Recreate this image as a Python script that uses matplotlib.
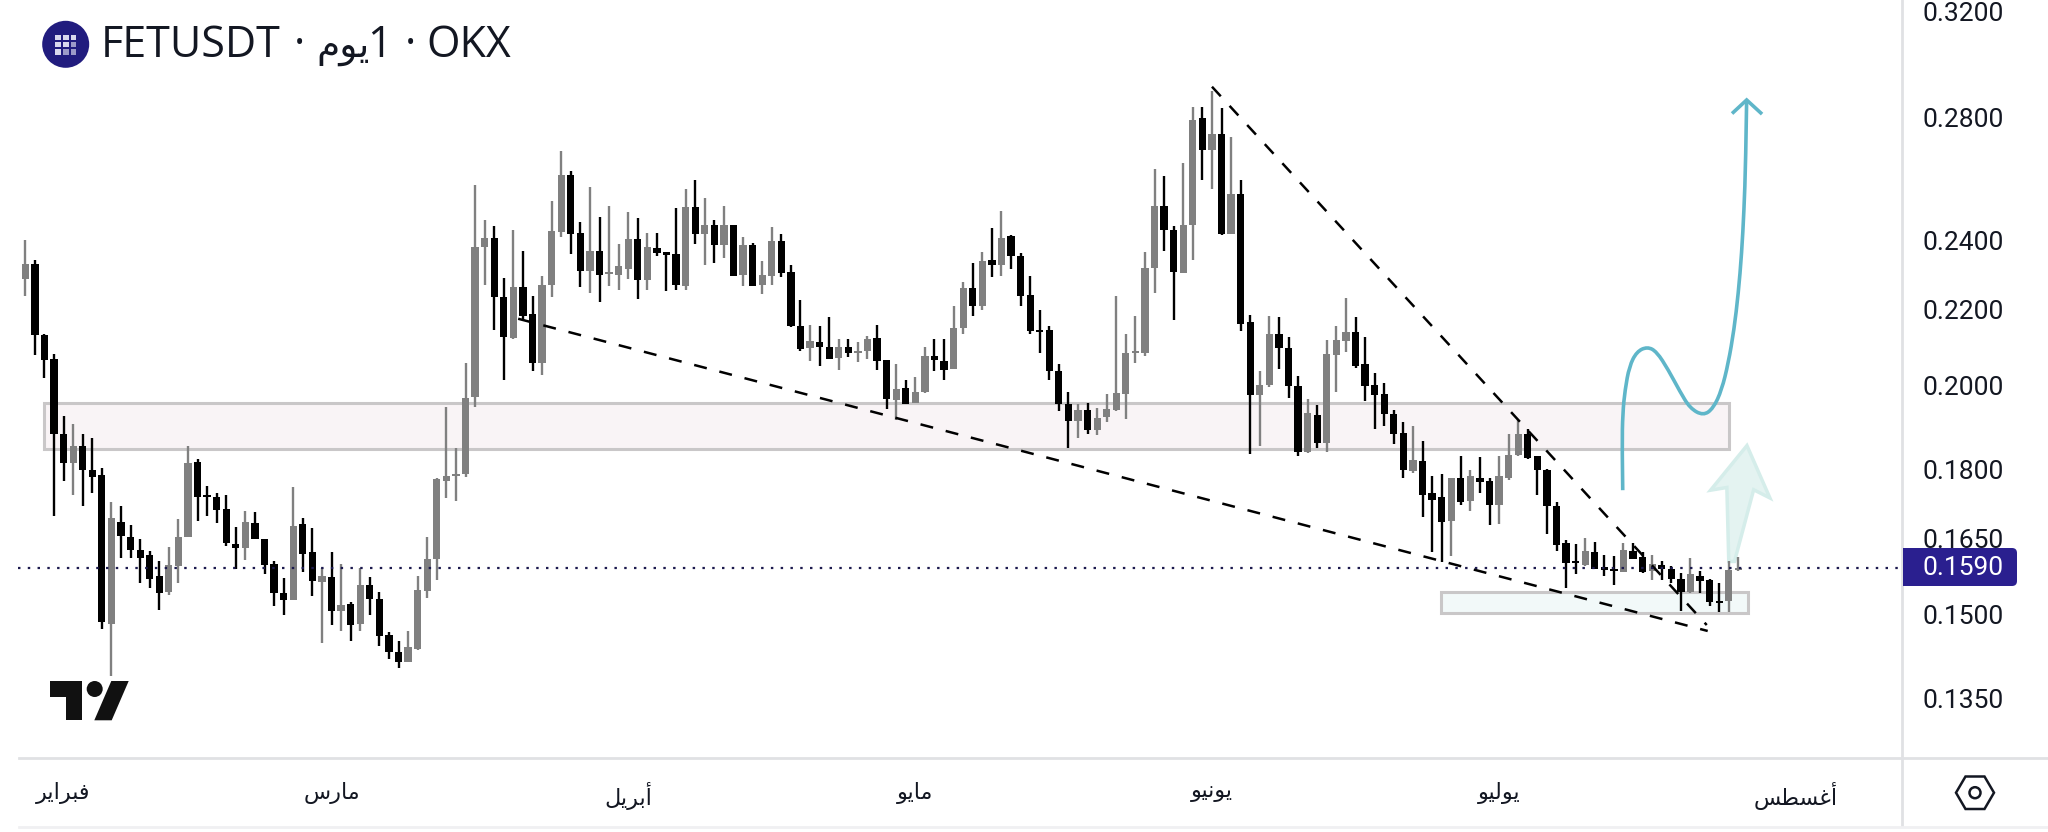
import numpy as np
import matplotlib
matplotlib.use("Agg")
import matplotlib.pyplot as plt
from matplotlib.patches import Rectangle, Polygon, Circle, FancyBboxPatch, PathPatch
from matplotlib.path import Path

# daily candles
opens = [.2287,.2331,.2130,.2068,.1881,.1815,.1855,.1800,.1787,.1483,
         .1686,.1654,.1627,.1618,.1574,.1544,.1595,.1655,.1817,.1744,
         .1739,.1713,.1639,.1631,.1684,.1650,.1599,.1542,.1529,.1682,
         .1624,.1564,.1573,.1507,.1521,.1483,.1558,.1530,.1463,.1432,
         .1414,.1438,.1546,.1609,.1775,.1785,.1789,.1972,.2381,.2406,
         .2235,.2124,.2262,.2188,.2057,.2269,.2425,.2604,.2423,.2308,
         .2369,.2300,.2298,.2315,.2404,.2283,.2376,.2364,.2360,.2267,
         .2503,.2418,.2446,.2386,.2446,.2297,.2386,.2268,.2295,.2398,
         .2306,.2154,.2096,.2113,.2100,.2071,.2100,.2084,.2088,.2124,
         .2064,.1964,.1993,.1958,.1983,.2076,.2062,.2043,.2149,.2261,
         .2211,.2340,.2326,.2412,.2352,.2241,.2144,.2144,.2037,.1954,
         .1914,.1940,.1892,.1922,.1940,.1979,.2083,.2083,.2317,.2506,
         .2432,.2304,.2447,.2797,.2688,.2741,.2420,.2545,.2165,.1977,
         .2002,.2133,.2097,.1998,.1840,.1927,.1862,.2078,.2116,.2140,
         .2055,.2001,.1979,.1930,.1884,.1796,.1820,.1748,.1739,.1688,
         .1782,.1731,.1782,.1774,.1722,.1782,.1834,.1881,.1830,.1800,
         .1719,.1642,.1604,.1596,.1624,.1592,.1589,.1583,.1626,.1613,
         .1584,.1596,.1589,.1570,.1544,.1575,.1568,.1527,.1526,.1586]
highs = [.2402,.2340,.2135,.2081,.1926,.1907,.1883,.1872,.1803,.1729,
         .1719,.1680,.1650,.1626,.1605,.1633,.1692,.1853,.1824,.1764,
         .1747,.1744,.1675,.1708,.1706,.1650,.1605,.1571,.1762,.1694,
         .1673,.1591,.1624,.1599,.1525,.1591,.1573,.1544,.1468,.1451,
         .1470,.1575,.1654,.1782,.1947,.1849,.2057,.2571,.2463,.2442,
         .2289,.2430,.2369,.2238,.2296,.2520,.2686,.2618,.2457,.2566,
         .2472,.2507,.2389,.2487,.2469,.2422,.2422,.2366,.2499,.2561,
         .2590,.2530,.2463,.2505,.2447,.2411,.2393,.2339,.2439,.2420,
         .2327,.2227,.2159,.2156,.2180,.2120,.2120,.2113,.2129,.2159,
         .2064,.2055,.2013,.2021,.2100,.2120,.2121,.2209,.2278,.2333,
         .2366,.2436,.2489,.2415,.2363,.2295,.2200,.2154,.2055,.1985,
         .1954,.1958,.1944,.1978,.2238,.2134,.2183,.2366,.2623,.2600,
         .2444,.2645,.2837,.2837,.2893,.2833,.2732,.2587,.2186,.2036,
         .2182,.2180,.2125,.2025,.1966,.1952,.2118,.2154,.2232,.2180,
         .2125,.2031,.2006,.1940,.1910,.1900,.1866,.1785,.1790,.1782,
         .1832,.1800,.1829,.1780,.1832,.1881,.1916,.1895,.1830,.1802,
         .1729,.1647,.1639,.1652,.1643,.1617,.1614,.1641,.1641,.1624,
         .1617,.1604,.1594,.1581,.1610,.1584,.1570,.1561,.1604,.1612]
lows = [.2238,.2077,.2018,.1698,.1774,.1744,.1720,.1747,.1474,.1390,
        .1610,.1610,.1561,.1552,.1509,.1538,.1562,.1653,.1688,.1698,
        .1683,.1636,.1588,.1606,.1650,.1578,.1517,.1500,.1529,.1583,
        .1536,.1448,.1481,.1470,.1452,.1470,.1500,.1443,.1419,.1403,
        .1413,.1436,.1533,.1568,.1738,.1731,.1783,.1947,.2269,.2145,
        .2015,.2121,.2171,.2036,.2028,.2236,.2411,.2360,.2264,.2246,
        .2222,.2267,.2254,.2287,.2230,.2254,.2352,.2251,.2254,.2254,
        .2390,.2326,.2332,.2348,.2296,.2267,.2265,.2244,.2268,.2293,
        .2152,.2089,.2063,.2049,.2067,.2040,.2074,.2059,.2067,.2040,
        .1941,.1916,.1954,.1956,.1981,.2036,.2013,.2043,.2133,.2182,
        .2198,.2293,.2295,.2315,.2211,.2134,.2084,.2015,.1937,.1849,
        .1872,.1882,.1879,.1910,.1938,.1918,.2057,.2076,.2246,.2369,
        .2171,.2304,.2340,.2590,.2558,.2415,.2420,.2141,.1835,.1853,
        .1996,.2043,.1969,.1830,.1837,.1850,.1841,.1984,.2085,.2045,
        .1962,.1894,.1902,.1858,.1781,.1793,.1697,.1623,.1602,.1614,
        .1721,.1708,.1747,.1680,.1682,.1776,.1832,.1825,.1744,.1660,
        .1625,.1552,.1578,.1595,.1588,.1575,.1558,.1583,.1608,.1581,
        .1568,.1568,.1561,.1508,.1541,.1541,.1517,.1506,.1506,.1584]
closes = [.2330,.2130,.2066,.1882,.1814,.1855,.1799,.1783,.1487,.1694,
          .1657,.1627,.1611,.1569,.1542,.1597,.1653,.1815,.1739,.1739,
          .1712,.1642,.1631,.1685,.1650,.1597,.1541,.1528,.1677,.1620,
          .1565,.1574,.1508,.1518,.1481,.1558,.1530,.1460,.1432,.1413,
          .1440,.1548,.1609,.1778,.1785,.1791,.1970,.2381,.2408,.2235,
          .2126,.2262,.2183,.2057,.2269,.2427,.2606,.2420,.2308,.2369,
          .2297,.2306,.2325,.2404,.2283,.2379,.2362,.2357,.2268,.2503,
          .2418,.2446,.2386,.2446,.2296,.2386,.2267,.2297,.2398,.2303,
          .2154,.2094,.2116,.2098,.2067,.2098,.2084,.2090,.2120,.2063,
          .1967,.1991,.1954,.1985,.2076,.2064,.2040,.2150,.2261,.2209,
          .2339,.2326,.2406,.2352,.2239,.2142,.2138,.2036,.1954,.1914,
          .1940,.1892,.1921,.1943,.1981,.2083,.2088,.2319,.2504,.2430,
          .2306,.2447,.2792,.2688,.2744,.2418,.2545,.2162,.1977,.2002,
          .2133,.2097,.1998,.1841,.1932,.1862,.2081,.2118,.2140,.2050,
          .2000,.1977,.1930,.1881,.1798,.1821,.1743,.1733,.1686,.1782,
          .1729,.1785,.1773,.1722,.1785,.1834,.1881,.1826,.1799,.1719,
          .1637,.1601,.1601,.1625,.1588,.1586,.1584,.1627,.1609,.1583,
          .1599,.1588,.1570,.1544,.1578,.1566,.1525,.1523,.1586,.1590]

price_ticks = [.32, .28, .24, .22, .20, .18, .165, .15, .135]
price_labels = ["0.3200", "0.2800", "0.2400", "0.2200", "0.2000", "0.1800", "0.1650", "0.1500", "0.1350"]
month_pos = [4, 32, 63, 93, 124, 154, 185]
months = ["فبراير", "مارس", "أبريل", "مايو", "يونيو", "يوليو", "أغسطس"]
last_price = 0.1590

# drawings on the chart (bar index, price)
pink_zone = [2, 178, .1847, .1958]
blue_zone = [147.9, 180, .1503, .1544]
support_x = [51.5, 175.8]
support_y = [.2175, .1470]
resist_x = [124, 175.7]
resist_y = [.2910, .1481]
curve_x = [166.92, 166.85, 166.92, 167.16, 167.61, 168.38, 169.49, 170.47, 171.68, 172.90, 173.95,
           175.34, 176.39, 177.26, 177.95, 178.55, 179.0, 179.35, 179.59, 179.77, 179.87]
curve_y = [.1754, .1853, .1932, .1989, .2049, .2087, .2100, .2087, .2040, .1985, .1944,
           .1926, .1944, .1989, .2057, .2145, .2246, .2362, .2491, .2645, .2862]
head_x = [178.48, 179.87, 181.34]
head_y = [.2818, .2862, .2816]
pale_x = [178.0, 177.8, 176.1, 179.9, 182.3, 180.6, 178.6]
pale_y = [.1604, .1760, .1754, .1855, .1737, .1755, .1604]

# arabic has to be shaped by hand, matplotlib has no shaping or bidi
FORMS = {"ف": "\ufed1\ufed2\ufed3\ufed4", "ب": "\ufe8f\ufe90\ufe91\ufe92", "ر": "\ufead\ufeae",
         "ا": "\ufe8d\ufe8e", "أ": "\ufe83\ufe84", "ي": "\ufef1\ufef2\ufef3\ufef4",
         "م": "\ufee1\ufee2\ufee3\ufee4", "س": "\ufeb1\ufeb2\ufeb3\ufeb4", "ل": "\ufedd\ufede\ufedf\ufee0",
         "و": "\ufeed\ufeee", "ن": "\ufee5\ufee6\ufee7\ufee8", "غ": "\ufecd\ufece\ufecf\ufed0",
         "ط": "\ufec1\ufec2\ufec3\ufec4"}


def shape_ar(word):
    out = []
    for i, ch in enumerate(word):
        forms = FORMS[ch]
        before = i > 0 and len(FORMS[word[i - 1]]) == 4
        after = i < len(word) - 1 and len(forms) == 4
        out.append(forms[before + 2 * after])
    return "".join(reversed(out))


def smooth_path(xs, ys):
    # quadratic beziers with the read points as controls, matplotlib does the curve
    verts = [(xs[0], ys[0])]
    codes = [Path.MOVETO]
    for i in range(1, len(xs) - 1):
        if i < len(xs) - 2:
            end = ((xs[i] + xs[i + 1]) / 2, (ys[i] * ys[i + 1]) ** 0.5)
        else:
            end = (xs[i + 1], ys[i + 1])
        verts += [(xs[i], ys[i]), end]
        codes += [Path.CURVE3, Path.CURVE3]
    return Path(verts, codes)


# candle spacing and price scale of the reference
STEP = 9.57
X0 = 25.3
PANE_W = 1902
PANE_H = 757.7
K = 797.0

fig = plt.figure(figsize=(20.48, 8.32), dpi=100, facecolor="white")
ax = fig.add_axes([0, (832 - PANE_H) / 832, PANE_W / 2048, PANE_H / 832])
ax.set_yscale("log")
ax.set_xlim(-X0 / STEP, (PANE_W - X0) / STEP)
ax.set_ylim(0.32 * np.exp(-(PANE_H - 11) / K), 0.32 * np.exp(11 / K))
for s in ax.spines.values():
    s.set_visible(False)

ax.set_yticks(price_ticks)
ax.set_yticklabels(price_labels, family="Roboto", fontsize=19, color="#131722")
ax.yaxis.set_minor_locator(plt.NullLocator())
ax.tick_params(axis="y", left=False, right=False, labelleft=False, labelright=True, length=0, pad=15)
ax.set_xticks(month_pos)
ax.set_xticklabels([shape_ar(m) for m in months], family="DejaVu Sans", fontsize=16, color="#131722")
ax.tick_params(axis="x", length=0, pad=17.5)

# zones
for z, fc in [(pink_zone, "#f9f4f6"), (blue_zone, "#f2f9f9")]:
    ax.add_patch(Rectangle((z[0], z[2]), z[1] - z[0], z[3] - z[2], facecolor=fc, edgecolor="#c9c7c8",
                           linewidth=2.2, zorder=1))

ax.add_patch(Polygon(list(zip(pale_x, pale_y)), closed=True, facecolor="#e4f3f1", edgecolor="#d5edea",
                     linewidth=2.5, zorder=1.5))

# candles
idx = np.arange(len(opens))
o = np.array(opens)
c = np.array(closes)
colors = np.where(c >= o, "#808080", "#000000")
ax.vlines(idx, lows, highs, colors=colors, linewidth=1.7, zorder=3)
ax.bar(idx, np.abs(c - o), bottom=np.minimum(o, c), width=0.76, color=colors, linewidth=0, zorder=3)

# trend lines
for xs, ys in [(support_x, support_y), (resist_x, resist_y)]:
    ax.plot(xs, ys, color="black", linewidth=1.8, linestyle=(0, (5.2, 5.2)), zorder=4)

ax.hlines(last_price, -0.76, (PANE_W - X0) / STEP, colors="#1c1a4e", linewidth=1.6,
          linestyles=[(0, (1.1, 3.3))], zorder=4)

ax.add_patch(PathPatch(smooth_path(curve_x, curve_y), fill=False, edgecolor="#5fb6c9", linewidth=2.6, zorder=5))
ax.plot(head_x, head_y, color="#5fb6c9", linewidth=2.6, solid_joinstyle="miter", zorder=5)

# chrome in pixel coordinates
px = fig.add_axes([0, 0, 1, 1], facecolor="none")
px.set_xlim(0, 2048)
px.set_ylim(832, 0)
px.axis("off")

px.plot([19, 2048], [758, 758], color="#e0e1e4", linewidth=2)
px.plot([1902, 1902], [0, 826], color="#e0e1e4", linewidth=2)
px.plot([19, 2048], [827, 827], color="#f0f0f2", linewidth=2)

# price badge
px.add_patch(FancyBboxPatch((1905, 550), 110, 34, boxstyle="round,pad=2,rounding_size=5",
                            facecolor="#2a1f8f", edgecolor="none", zorder=6))
px.add_patch(Rectangle((1903, 548), 10, 38, facecolor="#2a1f8f", edgecolor="none", zorder=6))
px.text(1923, 568, "0.1590", family="Roboto", fontsize=19, color="white", va="center", ha="left", zorder=7)

# settings hexagon
hx = [1956, 1965.5, 1984.5, 1994, 1984.5, 1965.5]
hy = [792.7, 776.5, 776.5, 792.7, 809, 809]
px.add_patch(Polygon(list(zip(hx, hy)), closed=True, fill=False, edgecolor="#131722", linewidth=1.8))
px.add_patch(Circle((1975, 792.7), 5.5, fill=False, edgecolor="#131722", linewidth=1.8))

# tradingview logo
px.add_patch(Polygon([(50, 681), (81.7, 681), (81.7, 720.3), (65.7, 720.3), (65.7, 696.7), (50, 696.7)],
                     closed=True, facecolor="#111111", edgecolor="none"))
px.add_patch(Circle((94.7, 689), 8, facecolor="#111111", edgecolor="none"))
px.add_patch(Polygon([(111.3, 681), (128.7, 681), (111.7, 720.3), (94.3, 720.3)],
                     closed=True, facecolor="#111111", edgecolor="none"))

# header
px.add_patch(Circle((65.7, 44.3), 23.5, facecolor="#211c7e", edgecolor="none"))
for i in range(3):
    for j in range(3):
        shade = "#d9d8ee" if i + j < 3 else "#9c9ac8"
        px.add_patch(Rectangle((55 + i * 7.9, 34.5 + j * 7.3), 5.6, 5.4, facecolor=shade, edgecolor="none"))

title_font = dict(family="Open Sans", fontsize=31, color="#131722", va="baseline", ha="left")
px.text(101, 57, "FETUSDT", **title_font)
px.text(294, 57, "·", **title_font)
px.text(316, 57, shape_ar("يوم"), family="DejaVu Sans", fontsize=27, color="#131722", va="baseline", ha="left")
px.text(367, 57, "1", **title_font)
px.text(405, 57, "·", **title_font)
px.text(426, 57, "OKX", **title_font)

plt.savefig("out.png", dpi=100)
